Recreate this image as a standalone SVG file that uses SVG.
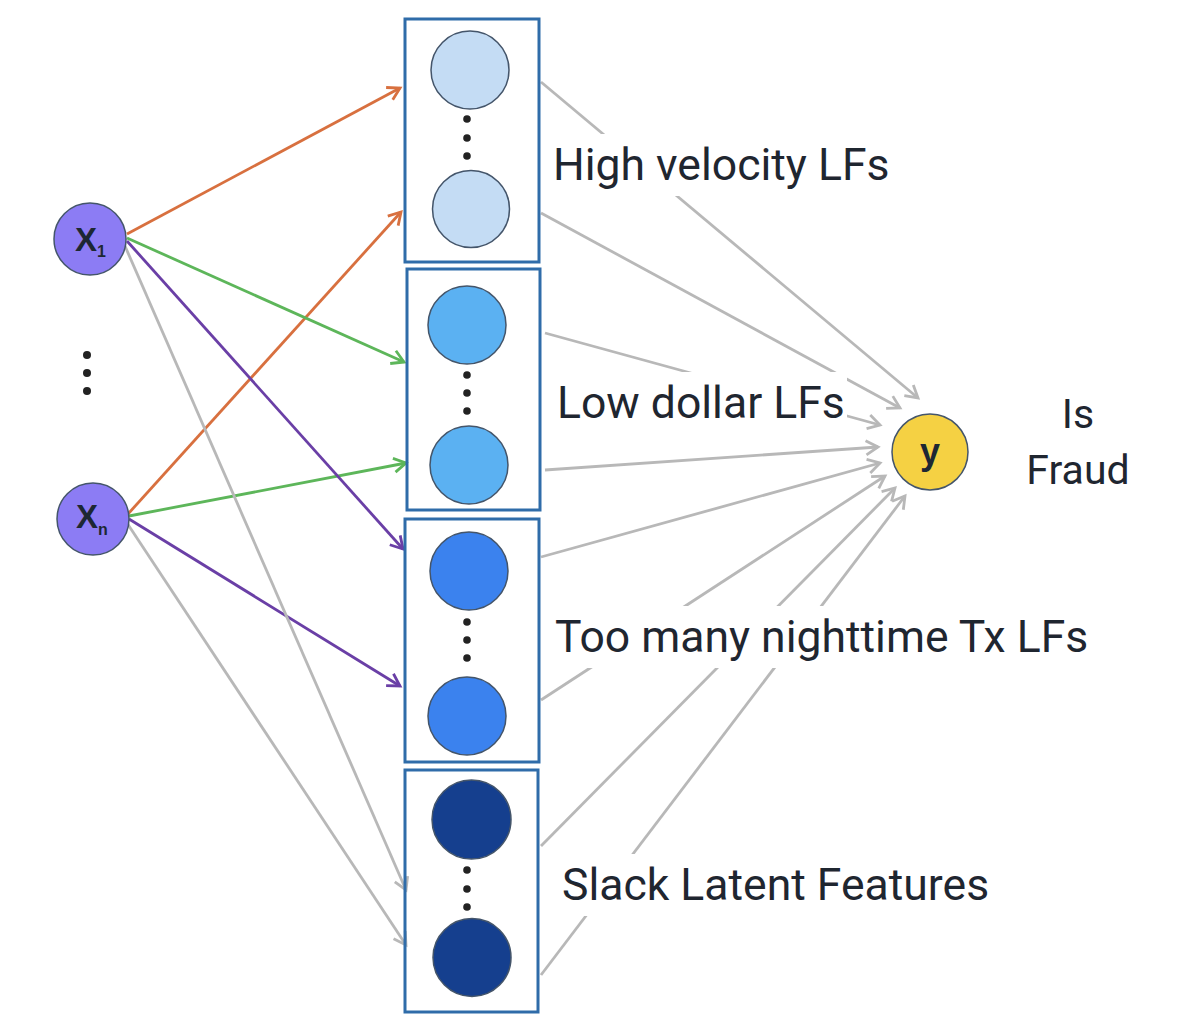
<svg xmlns="http://www.w3.org/2000/svg" width="1178" height="1034" viewBox="0 0 1178 1034">
<defs>
<style>
.box{fill:none;stroke:#2F6CA9;stroke-width:3}
.n{stroke:#44556a;stroke-width:1.5}
.dot{fill:#222}
.lbl{font-family:Roboto,"Liberation Sans",sans-serif;font-size:44.5px;fill:#1f2630}
.sm{font-size:41px}
.bg{fill:#ffffff}
.c{fill:none;stroke-width:2.8}
.or{stroke:#D8703F}
.gr{stroke:#5DB65A}
.pu{stroke:#6A3FA6}
.gy{stroke:#B8B8B8}
.nodetxt{font-family:"Liberation Sans",Arial,sans-serif;font-weight:bold;fill:#1d2733}
</style>
<marker id="aor" markerUnits="userSpaceOnUse" markerWidth="20" markerHeight="20" refX="15" refY="9" orient="auto"><path d="M3,2 L15,9 L3,16" fill="none" stroke="#D8703F" stroke-width="2.8"/></marker>
<marker id="agr" markerUnits="userSpaceOnUse" markerWidth="20" markerHeight="20" refX="15" refY="9" orient="auto"><path d="M3,2 L15,9 L3,16" fill="none" stroke="#5DB65A" stroke-width="2.8"/></marker>
<marker id="apu" markerUnits="userSpaceOnUse" markerWidth="20" markerHeight="20" refX="15" refY="9" orient="auto"><path d="M3,2 L15,9 L3,16" fill="none" stroke="#6A3FA6" stroke-width="2.8"/></marker>
<marker id="agy" markerUnits="userSpaceOnUse" markerWidth="20" markerHeight="20" refX="15" refY="9" orient="auto"><path d="M3,2 L15,9 L3,16" fill="none" stroke="#B8B8B8" stroke-width="2.8"/></marker>
</defs>
<rect width="1178" height="1034" fill="#ffffff"/>

<g id="connectors">
<line class="c or" x1="127" y1="234" x2="400" y2="88" marker-end="url(#aor)"/>
<line class="c or" x1="128" y1="514" x2="401" y2="212" marker-end="url(#aor)"/>
<line class="c gr" x1="127" y1="238" x2="404" y2="362" marker-end="url(#agr)"/>
<line class="c gr" x1="129" y1="516" x2="406" y2="463" marker-end="url(#agr)"/>
<line class="c pu" x1="127" y1="241" x2="403" y2="549" marker-end="url(#apu)"/>
<line class="c pu" x1="129" y1="519" x2="400" y2="686" marker-end="url(#apu)"/>
<line class="c gy" x1="125" y1="246" x2="406" y2="890" marker-end="url(#agy)"/>
<line class="c gy" x1="127" y1="523" x2="406" y2="945" marker-end="url(#agy)"/>

<line class="c gy" x1="541" y1="82" x2="918" y2="398" marker-end="url(#agy)"/>
<line class="c gy" x1="541" y1="213" x2="900" y2="408" marker-end="url(#agy)"/>
<line class="c gy" x1="545" y1="333" x2="880" y2="425" marker-end="url(#agy)"/>
<line class="c gy" x1="545" y1="470" x2="878" y2="447" marker-end="url(#agy)"/>
<line class="c gy" x1="541" y1="557" x2="880" y2="463" marker-end="url(#agy)"/>
<line class="c gy" x1="541" y1="700" x2="885" y2="476" marker-end="url(#agy)"/>
<line class="c gy" x1="541" y1="846" x2="895" y2="488" marker-end="url(#agy)"/>
<line class="c gy" x1="541" y1="975" x2="905" y2="496" marker-end="url(#agy)"/>
</g>

<g id="label-high">
<rect class="bg" x="550" y="134" width="345" height="62"/>
<text class="lbl" x="553" y="180">High velocity LFs</text>
</g>
<g id="label-low">
<rect class="bg" x="553" y="372" width="294" height="60"/>
<text class="lbl" x="557" y="418">Low dollar LFs</text>
</g>
<g id="label-night">
<rect class="bg" x="551" y="606" width="545" height="62"/>
<text class="lbl" x="555" y="652">Too many nighttime Tx LFs</text>
</g>
<g id="label-slack">
<rect class="bg" x="558" y="854" width="438" height="62"/>
<text class="lbl" x="562" y="900">Slack Latent Features</text>
</g>
<g id="label-fraud">
<text class="lbl sm" x="1078" y="428" text-anchor="middle">Is</text>
<text class="lbl sm" x="1078" y="484" text-anchor="middle">Fraud</text>
</g>

<g id="x1">
<circle class="n" cx="90" cy="239" r="36" fill="#8C7CF4"/>
<text class="nodetxt" x="75" y="251" font-size="33">X<tspan font-size="16" dy="6">1</tspan></text>
</g>
<g id="left-dots">
<circle class="dot" cx="87" cy="355" r="4"/>
<circle class="dot" cx="87" cy="373" r="4"/>
<circle class="dot" cx="87" cy="391" r="4"/>
</g>
<g id="xn">
<circle class="n" cx="93" cy="519" r="36" fill="#8C7CF4"/>
<text class="nodetxt" x="76" y="528" font-size="33">X<tspan font-size="16" dy="7">n</tspan></text>
</g>

<g id="box-high">
<rect class="box" x="405" y="19" width="134" height="243"/>
<circle class="n" cx="470" cy="70" r="39" fill="#C4DCF4"/>
<circle class="n" cx="471" cy="209" r="38.5" fill="#C4DCF4"/>
<circle class="dot" cx="467" cy="119" r="3.8"/>
<circle class="dot" cx="467" cy="138" r="3.8"/>
<circle class="dot" cx="467" cy="156" r="3.8"/>
</g>
<g id="box-low">
<rect class="box" x="407" y="269" width="133" height="241"/>
<circle class="n" cx="467" cy="325" r="39" fill="#5BB1F2"/>
<circle class="n" cx="469" cy="465" r="39" fill="#5BB1F2"/>
<circle class="dot" cx="467" cy="375" r="3.8"/>
<circle class="dot" cx="467" cy="393" r="3.8"/>
<circle class="dot" cx="467" cy="411" r="3.8"/>
</g>
<g id="box-night">
<rect class="box" x="405" y="519" width="134" height="243"/>
<circle class="n" cx="469" cy="571" r="39" fill="#3B82EE"/>
<circle class="n" cx="467" cy="716" r="39" fill="#3B82EE"/>
<circle class="dot" cx="467" cy="622" r="3.8"/>
<circle class="dot" cx="467" cy="640" r="3.8"/>
<circle class="dot" cx="467" cy="658" r="3.8"/>
</g>
<g id="box-slack">
<rect class="box" x="405" y="770" width="133" height="242"/>
<circle class="n" cx="471.5" cy="819.5" r="39.5" fill="#153F8E"/>
<circle class="n" cx="472" cy="957.5" r="39" fill="#153F8E"/>
<circle class="dot" cx="467" cy="870" r="3.8"/>
<circle class="dot" cx="467" cy="889" r="3.8"/>
<circle class="dot" cx="467" cy="907" r="3.8"/>
</g>

<g id="y">
<circle class="n" cx="930" cy="452" r="38" fill="#F5D143"/>
<text class="nodetxt" x="930" y="464" font-size="36" text-anchor="middle">y</text>
</g>
</svg>
